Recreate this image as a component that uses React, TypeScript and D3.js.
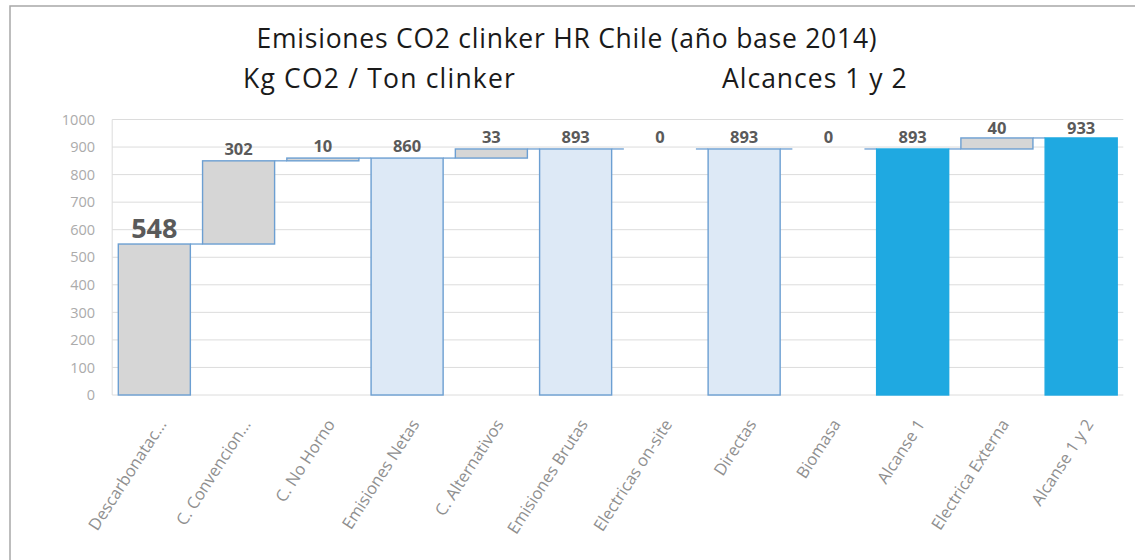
import React from "react";
import * as d3 from "d3";

const categories = [
  "Descarbonatac...",
  "C. Convencion...",
  "C. No Horno",
  "Emisiones Netas",
  "C. Alternativos",
  "Emisiones Brutas",
  "Electricas on-site",
  "Directas",
  "Biomasa",
  "Alcanse 1",
  "Electrica Externa",
  "Alcanse 1 y 2",
];
const values = [548, 302, 10, 860, 33, 893, 0, 893, 0, 893, 40, 933];
// "step" adds to the running total, "subtotal" and "total" start from zero
const kinds = [
  "step", "step", "step", "subtotal", "step", "subtotal",
  "step", "subtotal", "step", "total", "step", "total",
];
const yTicks = [0, 100, 200, 300, 400, 500, 600, 700, 800, 900, 1000];

const W = 1135;
const H = 560;
const margin = { top: 119.5, right: 11.7, bottom: 165, left: 112.2 };
const FONT = "'Open Sans', sans-serif";

export default function App() {
  const x = d3
    .scaleBand<string>()
    .domain(categories)
    .range([margin.left, W - margin.right])
    .paddingInner(0.145)
    .paddingOuter(0.0725);
  const y = d3.scaleLinear().domain([0, 1000]).range([H - margin.bottom, margin.top]);

  // running waterfall
  let cum = 0;
  const bars = categories.map((c, i) => {
    let start: number, end: number;
    if (kinds[i] === "step") {
      start = cum;
      end = cum + values[i];
    } else {
      start = 0;
      end = values[i];
    }
    cum = end;
    return { c, i, start, end, kind: kinds[i], v: values[i] };
  });

  const fillFor = (k: string) =>
    k === "step" ? "#d6d6d6" : k === "subtotal" ? "#dde9f6" : "#1fa9e1";
  const strokeFor = (k: string) => (k === "total" ? "#1fa9e1" : "#6c9fd2");

  const bw = x.bandwidth();

  return (
    <svg
      width={W}
      height={H}
      style={{ position: "absolute", left: 0, top: 0, background: "#fff" }}
      fontFamily={FONT}
    >
      <rect x={10} y={6} width={W + 20} height={H + 20} fill="#fff" stroke="#a8a8a8" strokeWidth={1.5} />

      <text x={567} y={48} textAnchor="middle" fontSize={26.5} letterSpacing={0.75} fill="#1a1a1a">
        Emisiones CO2 clinker HR Chile (año base 2014)
      </text>
      <text x={243} y={87.5} fontSize={26.5} letterSpacing={1.2} fill="#1a1a1a">
        Kg CO2 / Ton clinker
      </text>
      <text x={722} y={87.5} fontSize={26.5} letterSpacing={1.0} fill="#1a1a1a">
        Alcances 1 y 2
      </text>

      {/* grid + y labels */}
      {yTicks.map((t) => (
        <g key={t}>
          <line
            x1={margin.left}
            x2={W - margin.right}
            y1={y(t)}
            y2={y(t)}
            stroke="#dcdcdc"
            strokeWidth={1}
          />
          <text x={95} y={y(t)} dy="0.36em" textAnchor="end" fontSize={14.5} fill="#ababab">
            {t}
          </text>
        </g>
      ))}
      <line x1={margin.left} x2={margin.left} y1={y(1000)} y2={y(0)} stroke="#dcdcdc" />

      {/* connectors */}
      {bars.slice(0, -1).map((b) => (
        <line
          key={"c" + b.i}
          x1={(x(b.c) as number) + bw}
          x2={x(categories[b.i + 1]) as number}
          y1={y(b.end)}
          y2={y(b.end)}
          stroke="#6c9fd2"
          strokeWidth={1.3}
        />
      ))}

      {/* bars */}
      {bars.map((b) => {
        const top = y(Math.max(b.start, b.end));
        const bot = y(Math.min(b.start, b.end));
        return (
          <rect
            key={b.c}
            x={x(b.c)}
            y={top}
            width={bw}
            height={bot - top}
            fill={fillFor(b.kind)}
            stroke={strokeFor(b.kind)}
            strokeWidth={1.4}
          />
        );
      })}

      {/* value labels */}
      {bars.map((b) => {
        const top = y(Math.max(b.start, b.end));
        const big = b.i === 0;
        const ly = big ? top - 6 : Math.max(top - 6, margin.top + 14.5);
        return (
          <text
            key={"l" + b.c}
            x={(x(b.c) as number) + bw / 2}
            y={ly}
            textAnchor="middle"
            fontSize={big ? 27 : 16.5}
            fontWeight="bold"
            fill="#5a5a5a"
          >
            {b.v}
          </text>
        );
      })}

      {/* category labels */}
      {categories.map((c) => {
        const cx = (x(c) as number) + bw / 2 + 8;
        const cy = y(0) + 26;
        return (
          <text
            key={"x" + c}
            transform={`translate(${cx},${cy}) rotate(-57)`}
            textAnchor="end"
            dy="0.35em"
            fontSize={16.5}
            fill="#8f8f8f"
          >
            {c}
          </text>
        );
      })}
    </svg>
  );
}
